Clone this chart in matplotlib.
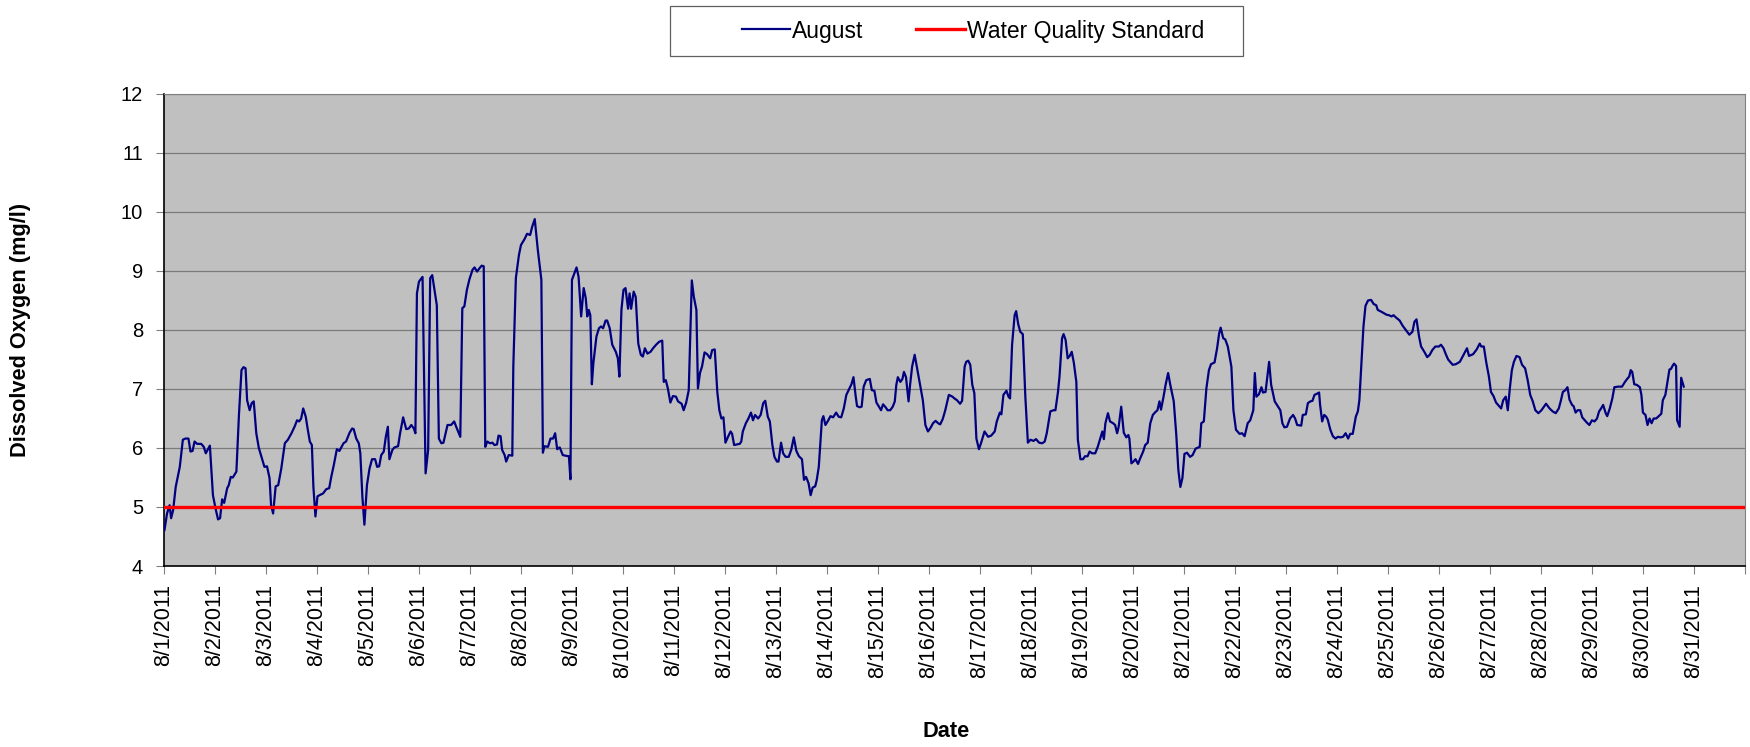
import numpy as np
import pandas as pd
import matplotlib
matplotlib.use("Agg")
import matplotlib.pyplot as plt
from matplotlib.patches import Rectangle
from matplotlib.ticker import FuncFormatter, FixedLocator

plt.rcParams['font.family'] = ['Liberation Sans', 'DejaVu Sans']

# days since 8/1/2011 00:00
obs_day = [
    0.01, 0.06, 0.11, 0.14, 0.18, 0.23, 0.31, 0.37, 0.42, 0.48, 0.52, 0.56, 0.60, 0.65, 0.73, 0.78,
    0.82, 0.90, 0.96, 1.01, 1.06, 1.10, 1.14, 1.18, 1.24, 1.27, 1.31, 1.35, 1.42, 1.47, 1.52, 1.56,
    1.60, 1.63, 1.68, 1.72, 1.76, 1.81, 1.86, 1.93, 1.97, 2.02, 2.07, 2.10, 2.14, 2.19, 2.24, 2.30,
    2.37, 2.43, 2.50, 2.56, 2.61, 2.65, 2.69, 2.73, 2.78, 2.82, 2.86, 2.90, 2.93, 2.97, 3.01, 3.05,
    3.12, 3.18, 3.24, 3.28, 3.33, 3.39, 3.44, 3.52, 3.57, 3.64, 3.69, 3.72, 3.77, 3.82, 3.85, 3.89,
    3.93, 3.98, 4.03, 4.08, 4.14, 4.18, 4.22, 4.26, 4.31, 4.35, 4.39, 4.42, 4.48, 4.52, 4.59, 4.63,
    4.69, 4.75, 4.80, 4.85, 4.90, 4.93, 4.96, 5.00, 5.07, 5.13, 5.18, 5.22, 5.26, 5.35, 5.39, 5.44,
    5.48, 5.56, 5.63, 5.69, 5.73, 5.81, 5.85, 5.89, 5.94, 5.99, 6.05, 6.09, 6.14, 6.19, 6.23, 6.27,
    6.30, 6.34, 6.39, 6.44, 6.48, 6.53, 6.56, 6.60, 6.63, 6.68, 6.71, 6.76, 6.83, 6.85, 6.90, 6.96,
    7.00, 7.07, 7.12, 7.18, 7.22, 7.27, 7.33, 7.40, 7.43, 7.46, 7.53, 7.58, 7.63, 7.67, 7.71, 7.76,
    7.82, 7.87, 7.94, 7.97, 8.00, 8.06, 8.09, 8.13, 8.18, 8.23, 8.27, 8.30, 8.33, 8.36, 8.39, 8.42,
    8.48, 8.53, 8.57, 8.61, 8.66, 8.69, 8.74, 8.79, 8.86, 8.90, 8.93, 8.97, 9.01, 9.05, 9.10, 9.13,
    9.16, 9.21, 9.25, 9.30, 9.35, 9.39, 9.43, 9.48, 9.54, 9.59, 9.65, 9.71, 9.77, 9.80, 9.84, 9.88,
    9.93, 9.98, 10.04, 10.08, 10.15, 10.19, 10.24, 10.29, 10.35, 10.39, 10.44, 10.47, 10.51, 10.55,
    10.60, 10.65, 10.71, 10.75, 10.80, 10.85, 10.89, 10.93, 10.97, 11.01, 11.06, 11.11, 11.14, 11.18,
    11.23, 11.29, 11.32, 11.35, 11.41, 11.46, 11.51, 11.55, 11.59, 11.65, 11.70, 11.75, 11.79, 11.84,
    11.88, 11.93, 11.97, 12.02, 12.05, 12.10, 12.14, 12.19, 12.25, 12.30, 12.35, 12.40, 12.45, 12.51,
    12.55, 12.59, 12.64, 12.68, 12.72, 12.77, 12.80, 12.84, 12.87, 12.90, 12.93, 12.97, 13.02, 13.07,
    13.12, 13.18, 13.23, 13.28, 13.33, 13.38, 13.43, 13.48, 13.52, 13.56, 13.59, 13.64, 13.68, 13.72,
    13.77, 13.84, 13.88, 13.93, 13.97, 14.02, 14.06, 14.10, 14.15, 14.19, 14.24, 14.29, 14.33, 14.36,
    14.39, 14.44, 14.48, 14.51, 14.55, 14.60, 14.63, 14.67, 14.72, 14.76, 14.81, 14.88, 14.93, 14.98,
    15.03, 15.08, 15.13, 15.18, 15.22, 15.27, 15.32, 15.39, 15.46, 15.50, 15.55, 15.61, 15.65, 15.70,
    15.73, 15.77, 15.81, 15.85, 15.89, 15.93, 15.98, 16.02, 16.09, 16.16, 16.22, 16.29, 16.33, 16.39,
    16.42, 16.46, 16.52, 16.56, 16.59, 16.63, 16.68, 16.71, 16.75, 16.79, 16.84, 16.89, 16.94, 16.99,
    17.05, 17.10, 17.16, 17.22, 17.27, 17.31, 17.38, 17.44, 17.48, 17.53, 17.56, 17.61, 17.64, 17.68,
    17.72, 17.76, 17.80, 17.84, 17.89, 17.92, 17.97, 18.02, 18.06, 18.11, 18.15, 18.20, 18.26, 18.31,
    18.37, 18.40, 18.43, 18.46, 18.51, 18.55, 18.61, 18.65, 18.69, 18.72, 18.77, 18.82, 18.87, 18.91,
    18.93, 18.97, 19.01, 19.05, 19.10, 19.14, 19.20, 19.24, 19.29, 19.34, 19.39, 19.43, 19.48, 19.52,
    19.55, 19.60, 19.64, 19.69, 19.73, 19.80, 19.85, 19.89, 19.93, 19.97, 20.01, 20.06, 20.12, 20.17,
    20.23, 20.31, 20.34, 20.39, 20.44, 20.49, 20.53, 20.60, 20.65, 20.69, 20.72, 20.77, 20.81, 20.86,
    20.93, 20.97, 21.02, 21.09, 21.14, 21.19, 21.25, 21.30, 21.36, 21.39, 21.42, 21.47, 21.52, 21.55,
    21.60, 21.67, 21.71, 21.78, 21.84, 21.89, 21.93, 21.97, 22.02, 22.08, 22.14, 22.18, 22.22, 22.30,
    22.33, 22.39, 22.43, 22.48, 22.52, 22.56, 22.61, 22.65, 22.67, 22.71, 22.75, 22.79, 22.82, 22.87,
    22.92, 22.97, 23.02, 23.07, 23.12, 23.17, 23.22, 23.26, 23.31, 23.37, 23.41, 23.44, 23.48, 23.52,
    23.56, 23.61, 23.67, 23.72, 23.77, 23.80, 23.87, 23.93, 23.97, 24.02, 24.07, 24.11, 24.16, 24.23,
    24.29, 24.36, 24.42, 24.48, 24.52, 24.56, 24.61, 24.65, 24.72, 24.77, 24.82, 24.87, 24.93, 25.00,
    25.04, 25.09, 25.13, 25.18, 25.22, 25.27, 25.33, 25.41, 25.47, 25.55, 25.59, 25.67, 25.74, 25.80,
    25.83, 25.88, 25.93, 25.98, 26.02, 26.07, 26.12, 26.18, 26.22, 26.26, 26.31, 26.35, 26.39, 26.43,
    26.47, 26.52, 26.58, 26.63, 26.69, 26.74, 26.79, 26.84, 26.89, 26.95, 27.01, 27.10, 27.17, 27.23,
    27.29, 27.35, 27.39, 27.43, 27.48, 27.52, 27.56, 27.61, 27.64, 27.68, 27.72, 27.77, 27.81, 27.86,
    27.90, 27.95, 28.00, 28.05, 28.10, 28.14, 28.18, 28.22, 28.27, 28.30, 28.35, 28.40, 28.44, 28.51,
    28.59, 28.64, 28.69, 28.73, 28.76, 28.79, 28.83, 28.88, 28.94, 28.97, 29.00, 29.05, 29.09, 29.13,
    29.17, 29.21, 29.26, 29.31, 29.36, 29.39, 29.44, 29.48, 29.52, 29.55, 29.58, 29.61, 29.65, 29.67,
    29.72, 29.75, 29.80,
]

# dissolved oxygen, mg/l
do_mgl = [
    4.61, 4.89, 5.03, 4.81, 4.95, 5.34, 5.68, 6.14, 6.16, 6.16, 5.94, 5.95, 6.11, 6.07, 6.07, 6.02,
    5.91, 6.04, 5.20, 4.98, 4.79, 4.81, 5.13, 5.07, 5.32, 5.37, 5.51, 5.50, 5.60, 6.56, 7.32, 7.37,
    7.35, 6.81, 6.64, 6.76, 6.79, 6.25, 6.00, 5.80, 5.68, 5.69, 5.49, 5.03, 4.89, 5.35, 5.37, 5.65,
    6.08, 6.14, 6.25, 6.36, 6.47, 6.45, 6.50, 6.67, 6.53, 6.31, 6.11, 6.05, 5.34, 4.84, 5.18, 5.20,
    5.23, 5.30, 5.32, 5.51, 5.71, 5.98, 5.95, 6.08, 6.11, 6.26, 6.33, 6.32, 6.16, 6.08, 5.91, 5.18,
    4.70, 5.37, 5.65, 5.81, 5.81, 5.68, 5.69, 5.88, 5.94, 6.19, 6.36, 5.81, 5.97, 6.01, 6.03, 6.25,
    6.52, 6.32, 6.33, 6.39, 6.33, 6.25, 8.62, 8.82, 8.90, 5.57, 5.97, 8.88, 8.93, 8.42, 6.16, 6.08,
    6.09, 6.39, 6.39, 6.45, 6.36, 6.19, 8.37, 8.40, 8.68, 8.86, 9.02, 9.06, 8.99, 9.05, 9.09, 9.08,
    6.02, 6.11, 6.08, 6.09, 6.05, 6.06, 6.21, 6.20, 5.97, 5.88, 5.77, 5.88, 5.87, 7.38, 8.88, 9.27,
    9.44, 9.54, 9.63, 9.61, 9.75, 9.88, 9.36, 8.85, 5.92, 6.03, 6.02, 6.16, 6.16, 6.25, 5.98, 6.01,
    5.88, 5.87, 5.86, 5.47, 8.85, 8.99, 9.06, 8.90, 8.23, 8.71, 8.54, 8.23, 8.34, 8.25, 7.08, 7.44,
    7.89, 8.03, 8.06, 8.03, 8.16, 8.16, 8.03, 7.75, 7.63, 7.52, 7.21, 8.34, 8.68, 8.71, 8.36, 8.62,
    8.36, 8.65, 8.56, 7.77, 7.58, 7.55, 7.69, 7.60, 7.63, 7.69, 7.75, 7.80, 7.82, 7.12, 7.15, 7.01,
    6.77, 6.88, 6.87, 6.79, 6.75, 6.64, 6.77, 6.98, 8.84, 8.56, 8.34, 7.01, 7.27, 7.38,
    7.62, 7.59, 7.52, 7.66, 7.67, 6.95, 6.64, 6.50, 6.52, 6.09, 6.19, 6.28, 6.24, 6.05,
    6.06, 6.07, 6.11, 6.28, 6.42, 6.50, 6.60, 6.47, 6.56, 6.50, 6.56, 6.76, 6.80, 6.53,
    6.45, 6.05, 5.85, 5.77, 5.77, 6.09, 5.91, 5.85, 5.85, 5.97, 6.18, 5.95, 5.86, 5.81,
    5.46, 5.51, 5.40, 5.20, 5.33, 5.35, 5.46, 5.68, 6.08, 6.47, 6.54, 6.39, 6.46, 6.54,
    6.52, 6.60, 6.53, 6.52, 6.67, 6.90, 6.99, 7.08, 7.20, 6.90, 6.71, 6.69, 6.70, 7.04,
    7.15, 7.17, 6.98, 6.97, 6.77, 6.70, 6.64, 6.74, 6.69, 6.64, 6.64, 6.70, 6.79, 7.07,
    7.20, 7.12, 7.17, 7.29, 7.20, 6.79, 7.07, 7.38, 7.58, 7.39, 7.15, 6.81, 6.39, 6.28,
    6.34, 6.42, 6.46, 6.42, 6.40, 6.49, 6.64, 6.90, 6.87, 6.84, 6.81, 6.75, 6.80, 7.38,
    7.46, 7.48, 7.41, 7.07, 6.93, 6.16, 5.98, 6.08, 6.28, 6.19, 6.21, 6.28, 6.45, 6.60,
    6.57, 6.90, 6.97, 6.87, 6.84, 7.75, 8.25, 8.32, 8.10, 7.97, 7.93, 6.87, 6.09, 6.14,
    6.12, 6.15, 6.09, 6.08, 6.11, 6.25, 6.62, 6.64, 6.64, 6.95, 7.21, 7.86, 7.93, 7.83,
    7.52, 7.56, 7.63, 7.45, 7.12, 6.14, 5.81, 5.81, 5.86, 5.86, 5.94, 5.91, 5.91, 6.02,
    6.19, 6.28, 6.15, 6.42, 6.59, 6.45, 6.42, 6.39, 6.25, 6.36, 6.70, 6.26, 6.18, 6.22,
    6.16, 5.74, 5.77, 5.81, 5.73, 5.82, 5.94, 6.05, 6.09, 6.42, 6.56, 6.60, 6.64, 6.79,
    6.65, 6.87, 7.07, 7.27, 7.08, 6.79, 6.22, 5.63, 5.34, 5.49, 5.90, 5.92, 5.85, 5.88,
    5.99, 6.02, 6.42, 6.45, 7.01, 7.32, 7.42, 7.45, 7.69, 7.94, 8.04, 7.86, 7.84, 7.72,
    7.38, 6.64, 6.31, 6.24, 6.25, 6.20, 6.42, 6.47, 6.64, 7.27, 6.87, 6.91, 7.03, 6.94,
    6.95, 7.46, 7.07, 6.79, 6.71, 6.64, 6.42, 6.35, 6.36, 6.50, 6.56, 6.50, 6.39, 6.38,
    6.56, 6.57, 6.76, 6.79, 6.80, 6.90, 6.92, 6.94, 6.73, 6.45, 6.56, 6.53, 6.48, 6.31,
    6.20, 6.16, 6.19, 6.18, 6.19, 6.25, 6.16, 6.24, 6.24, 6.53, 6.62, 6.81, 7.43, 8.06,
    8.41, 8.50, 8.51, 8.44, 8.42, 8.34, 8.31, 8.28, 8.26, 8.25, 8.23, 8.25, 8.21, 8.16,
    8.07, 7.99, 7.92, 7.97, 8.14, 8.18, 7.89, 7.72, 7.62, 7.54, 7.58, 7.66, 7.72, 7.72,
    7.75, 7.69, 7.60, 7.50, 7.46, 7.41, 7.42, 7.46, 7.56, 7.69, 7.56, 7.59, 7.67, 7.77,
    7.72, 7.72, 7.44, 7.21, 6.95, 6.88, 6.77, 6.71, 6.67, 6.81, 6.87, 6.64, 7.01, 7.32,
    7.46, 7.56, 7.54, 7.41, 7.35, 7.15, 6.90, 6.79, 6.64, 6.59, 6.64, 6.75, 6.67, 6.62,
    6.59, 6.67, 6.80, 6.95, 6.98, 7.03, 6.82, 6.73, 6.71, 6.60, 6.64, 6.64, 6.52, 6.47,
    6.43, 6.39, 6.47, 6.45, 6.50, 6.62, 6.67, 6.73, 6.59, 6.54, 6.67, 6.84, 7.03, 7.04,
    7.04, 7.11, 7.17, 7.21, 7.32, 7.29, 7.08, 7.07, 7.03, 6.90, 6.60, 6.56, 6.39, 6.50,
    6.42, 6.50, 6.50, 6.54, 6.58, 6.81, 6.90, 7.12, 7.33, 7.34, 7.39, 7.43, 7.39, 6.47,
    6.36, 7.19, 7.04,
]

standard = 5.0
day_labels = [f"8/{d}/2011" for d in range(1, 32)]

start = pd.Timestamp("2011-08-01")
times = start + pd.to_timedelta(np.array(obs_day), unit="D")
tick_days = np.arange(0, 32)
tick_times = [start + pd.Timedelta(days=int(d)) for d in tick_days]

fig = plt.figure(figsize=(17.5, 7.47), dpi=100)
ax = fig.add_axes([0.0937, 0.2423, 0.9034, 0.6319])
ax.set_facecolor("#C0C0C0")

ax.plot(times, do_mgl, color="#000080", linewidth=1.6, label="August", zorder=3)
ax.axhline(standard, color="#FF0000", linewidth=2.4, label="Water Quality Standard", zorder=4)

ax.set_xlim(tick_times[0], tick_times[-1])
ax.set_ylim(4, 12)
ax.set_yticks(range(4, 13))
ax.grid(axis="y", color="#7a7a7a", linewidth=0.9)
ax.set_axisbelow(True)

ax.xaxis.set_major_locator(FixedLocator(matplotlib.dates.date2num(tick_times)))
labels = day_labels + [""]
ax.xaxis.set_major_formatter(FuncFormatter(lambda v, pos: labels[pos] if pos is not None and pos < len(labels) else ""))
ax.tick_params(axis="x", labelsize=15.5, rotation=90, length=6, color="#808080", pad=7)
ax.tick_params(axis="y", labelsize=14.5, length=6, color="#808080", pad=9)

for s in ("top", "right"):
    ax.spines[s].set_color("#808080")
for s in ("left", "bottom"):
    ax.spines[s].set_color("black")
    ax.spines[s].set_linewidth(1.2)

ax.set_ylabel("Dissolved Oxygen (mg/l)", fontsize=15.7, fontweight="bold")
ax.set_xlabel("Date", fontsize=15.7, fontweight="bold")
ax.yaxis.set_label_coords(-0.084, 0.5)
ax.xaxis.set_label_coords(0.4948, -0.328)

fig.patches.append(Rectangle((0.383, 0.925), 0.327, 0.0675, transform=fig.transFigure,
                             facecolor="white", edgecolor="#606060", linewidth=0.9))
handles, lbls = ax.get_legend_handles_labels()
fig.legend(handles, lbls, loc="center", bbox_to_anchor=(0.556, 0.9585), ncol=2, frameon=False,
           fontsize=16.5, handlelength=2.1, handletextpad=0.1, columnspacing=2.3)

fig.savefig("out.png", dpi=100)
